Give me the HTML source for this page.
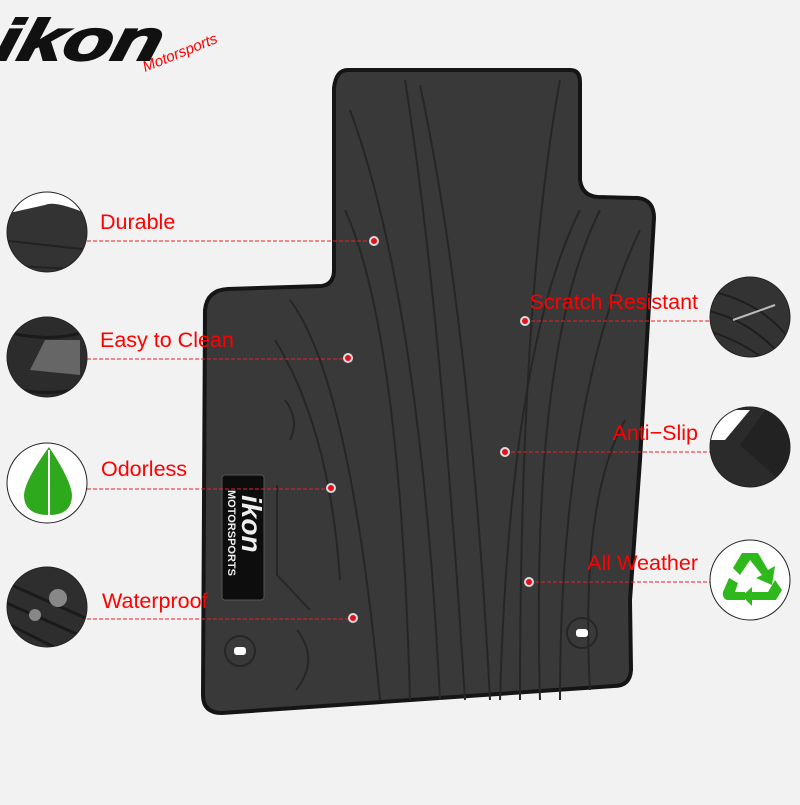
<!DOCTYPE html><html><head><style>
body{margin:0;width:800px;height:800px;background:#f2f2f2;overflow:hidden;font-family:"Liberation Sans",sans-serif}
</style></head><body>
<svg width="800" height="800" viewBox="0 0 800 800" xmlns="http://www.w3.org/2000/svg">
<defs>
<clipPath id="c1"><circle cx="47" cy="232" r="40"/></clipPath>
<clipPath id="c2"><circle cx="47" cy="357" r="40"/></clipPath>
<clipPath id="c4"><circle cx="47" cy="607" r="40"/></clipPath>
<clipPath id="r1"><circle cx="750" cy="317" r="40"/></clipPath>
<clipPath id="r2"><circle cx="750" cy="447" r="40"/></clipPath>
</defs>
<!-- logo -->
<g font-family="Liberation Sans" font-weight="bold" font-style="italic">
<text x="8" y="60" font-size="58" fill="#111" stroke="#111" stroke-width="2" transform="skewX(-14)" textLength="165" lengthAdjust="spacingAndGlyphs">ikon</text>
<text x="145" y="72" font-size="15" fill="#f00" transform="rotate(-22 145 72)" font-weight="normal">Motorsports</text>
</g>
<!-- mat -->
<path d="M348 70 L570 70 Q580 70 580 82 L580 180 Q582 196 598 197 L638 198 Q654 200 654 218 L640 460 L630 600 L631 670 Q630 686 614 686 L222 713 Q203 713 203 695 L205 310 Q207 290 228 289 L322 286 Q334 284 334 270 L334 88 Q336 70 348 70 Z" fill="#393939" stroke="#151515" stroke-width="4"/>
<g fill="none" stroke="#262626" stroke-width="2">
<path d="M405 80 Q440 300 465 700"/><path d="M420 85 Q470 320 490 700"/>
<path d="M350 110 Q420 300 440 700"/><path d="M345 210 Q400 330 410 700"/>
<path d="M290 300 Q350 380 380 700"/><path d="M275 340 Q330 430 340 580"/>
<path d="M560 80 Q520 300 520 700"/><path d="M580 210 Q510 350 500 700"/>
<path d="M600 210 Q530 350 540 700"/><path d="M640 230 Q560 400 560 700"/>
<path d="M625 420 Q580 500 590 690"/><path d="M285 400 Q300 420 290 440"/>
<path d="M297 630 Q320 660 296 690"/><path d="M277 485 L277 575 L310 610"/>
</g>
<rect x="222" y="475" width="42" height="125" rx="3" fill="#0d0d0d" stroke="#555"/>
<text x="0" y="0" font-size="11" font-weight="bold" fill="#eee" transform="translate(228 490) rotate(90)">MOTORSPORTS</text>
<text x="0" y="0" font-size="28" font-weight="bold" font-style="italic" fill="#eee" transform="translate(242 495) rotate(90)">ikon</text>
<circle cx="240" cy="651" r="15" fill="none" stroke="#262626" stroke-width="2"/><rect x="234" y="647" width="12" height="8" rx="3" fill="#fff"/>
<circle cx="582" cy="633" r="15" fill="none" stroke="#262626" stroke-width="2"/><rect x="576" y="629" width="12" height="8" rx="3" fill="#fff"/>
<!-- dashed lines -->
<g stroke="#e8202a" stroke-width="1" stroke-dasharray="4,2">
<line x1="87" y1="241" x2="374" y2="241"/><line x1="87" y1="359" x2="348" y2="359"/>
<line x1="87" y1="489" x2="331" y2="489"/><line x1="87" y1="619" x2="353" y2="619"/>
<line x1="525" y1="321" x2="710" y2="321"/><line x1="505" y1="452" x2="710" y2="452"/>
<line x1="529" y1="582" x2="710" y2="582"/>
</g>
<g fill="#e8101a" stroke="#ddd" stroke-width="2">
<circle cx="374" cy="241" r="4"/><circle cx="348" cy="358" r="4"/><circle cx="331" cy="488" r="4"/><circle cx="353" cy="618" r="4"/>
<circle cx="525" cy="321" r="4"/><circle cx="505" cy="452" r="4"/><circle cx="529" cy="582" r="4"/>
</g>
<!-- circles -->
<g clip-path="url(#c1)"><rect x="0" y="190" width="100" height="90" fill="#333"/><path d="M0 215 L45 205 Q55 200 90 215 L90 190 L0 190Z" fill="#fff"/><path d="M0 240 L90 250 M0 265 L90 270" stroke="#222" stroke-width="2"/></g>
<circle cx="47" cy="232" r="40" fill="none" stroke="#222"/>
<g clip-path="url(#c2)"><rect x="0" y="310" width="100" height="90" fill="#2c2c2c"/><path d="M30 370 L45 340 L80 340 L80 375 Z" fill="#666"/><path d="M0 330 Q50 345 90 330 M0 385 Q50 400 90 385" stroke="#1a1a1a" stroke-width="3" fill="none"/></g>
<circle cx="47" cy="357" r="40" fill="none" stroke="#222"/>
<circle cx="47" cy="483" r="40" fill="#fff" stroke="#222"/>
<path d="M49 447 Q25 480 24 495 Q24 515 49 515 Q72 515 72 495 Q71 480 49 447Z" fill="#2ea81c"/><line x1="49" y1="450" x2="49" y2="515" stroke="#fff" stroke-width="2"/>
<g clip-path="url(#c4)"><rect x="0" y="565" width="100" height="90" fill="#2e2e2e"/><path d="M0 580 L90 620 M0 600 L90 640 M0 620 L80 660" stroke="#1a1a1a" stroke-width="3"/><circle cx="58" cy="598" r="9" fill="#888"/><circle cx="35" cy="615" r="6" fill="#888"/></g>
<circle cx="47" cy="607" r="40" fill="none" stroke="#222"/>
<g clip-path="url(#r1)"><rect x="705" y="275" width="90" height="90" fill="#333"/><path d="M705 290 Q760 300 790 340 M705 310 Q750 320 780 355 M705 330 Q740 340 765 360" stroke="#1e1e1e" stroke-width="2" fill="none"/><line x1="733" y1="320" x2="775" y2="305" stroke="#bbb" stroke-width="2"/></g>
<circle cx="750" cy="317" r="40" fill="none" stroke="#222"/>
<g clip-path="url(#r2)"><rect x="705" y="405" width="90" height="90" fill="#2b2b2b"/><path d="M705 410 L750 410 L725 440 L705 440Z" fill="#fff"/><path d="M740 445 L765 410 L800 430 L790 490 Z" fill="#222"/></g>
<circle cx="750" cy="447" r="40" fill="none" stroke="#222"/>
<circle cx="750" cy="580" r="40" fill="#fff" stroke="#222"/>
<g fill="#2eb81c"><path d="M742 553 L758 553 L768 570 L775 566 L772 585 L756 578 L762 575 L750 560 L740 575 L733 568Z"/><path d="M729 578 L738 583 L735 592 L745 592 L745 600 L727 600 Q722 598 723 592Z"/><path d="M752 592 L768 592 L775 580 L782 590 L776 600 L752 600 L752 606 L742 596 L752 587Z"/></g>
<!-- labels -->
<g font-size="21.5" fill="#f00" font-family="Liberation Sans">
<text x="100" y="229">Durable</text><text x="100" y="347">Easy to Clean</text>
<text x="101" y="476">Odorless</text><text x="102" y="608">Waterproof</text>
<text x="698" y="309" text-anchor="end">Scratch Resistant</text>
<text x="698" y="440" text-anchor="end">Anti−Slip</text>
<text x="698" y="570" text-anchor="end">All Weather</text>
</g>
</svg>
</body></html>
